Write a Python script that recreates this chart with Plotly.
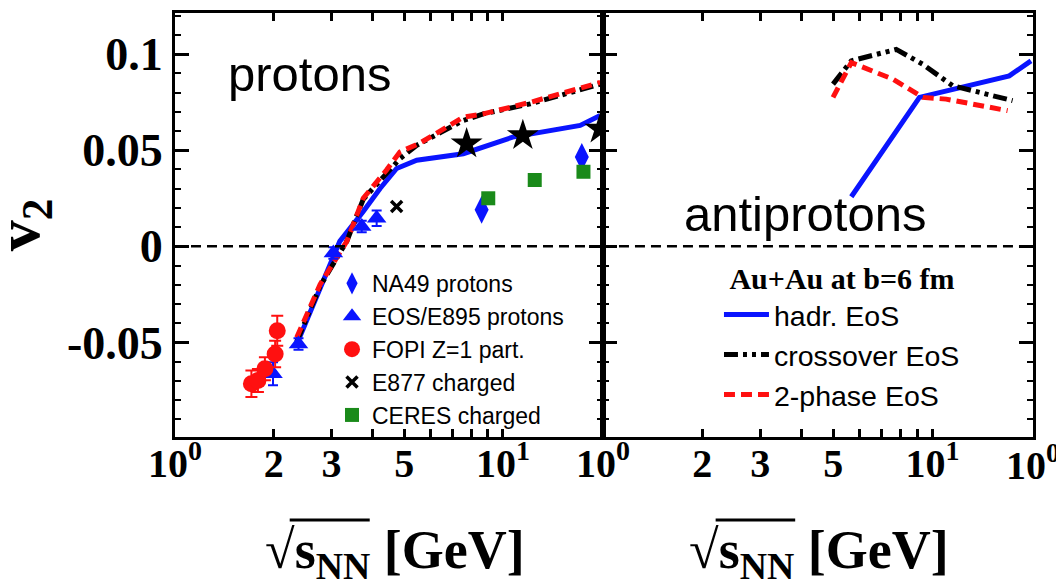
import plotly.graph_objects as go

# ---- model curves: v2 vs sqrt(s_NN) ----
# protons
hadr_p_x = [2.35, 2.70, 3.18, 3.75, 4.22, 4.74, 5.46, 7.57, 10.7, 17.2, 19.8]
hadr_p_y = [-0.051, -0.027, 0.0026, 0.0181, 0.0301, 0.0405, 0.0448, 0.0482, 0.0568, 0.0629, 0.0681]
cross_p_x = [2.35, 2.77, 3.34, 3.75, 4.42, 4.85, 5.46, 7.57, 8.71, 12.1, 19.8]
cross_p_y = [-0.0496, -0.0207, 0.0026, 0.0245, 0.0380, 0.0456, 0.0526, 0.0655, 0.0689, 0.0741, 0.0844]
twoph_p_x = [2.35, 2.52, 2.77, 3.34, 3.75, 4.42, 4.85, 5.58, 7.57, 8.71, 12.1, 19.8]
twoph_p_y = [-0.0475, -0.0353, -0.0198, 0.0026, 0.0250, 0.0398, 0.0491, 0.0537, 0.0672, 0.0689, 0.0749, 0.0853]

# antiprotons
hadr_a_x = [5.67, 9.13, 17.1, 19.9]
hadr_a_y = [0.0258, 0.0775, 0.0887, 0.0965]
cross_a_x = [4.99, 5.67, 7.76, 9.35, 11.5, 17.5]
cross_a_y = [0.0844, 0.0965, 0.1025, 0.0947, 0.0836, 0.0758]
twoph_a_x = [4.99, 5.67, 7.58, 9.35, 11.0, 16.9]
twoph_a_y = [0.0775, 0.0956, 0.087, 0.0775, 0.0766, 0.0706]

# ---- measurements ----
na49_x = [8.61, 17.4]
na49_y = [0.019, 0.0465]
e895_x = [1.99, 2.38, 3.04, 3.71, 4.12]
e895_y = [-0.0663, -0.0508, -0.0035, 0.0103, 0.0146]
e895_err = [0.006, 0.003, 0.003, 0.003, 0.004]
fopi_x = [1.71, 1.79, 1.88, 2.02, 2.05]
fopi_y = [-0.0715, -0.0698, -0.0637, -0.056, -0.0439]
fopi_err = [0.0069, 0.006, 0.006, 0.0069, 0.0078]
e877_x = [4.74]
e877_y = [0.0207]
ceres_x = [9.02, 12.5, 17.6]
ceres_y = [0.025, 0.0345, 0.0388]
star_x = [7.75, 11.5, 19.8]
star_y = [0.0534, 0.0577, 0.0611]

x_tickvals = [1, 2, 3, 4, 5, 6, 7, 8, 9, 10]
x_ticktext = ["10<sup>0</sup>", "2", "3", "", "5", "", "", "", "", "10<sup>1</sup>"]
y_tickvals = [-0.05, 0, 0.05, 0.1]
y_ticktext = ["-0.05", "0", "0.05", "0.1"]

BLUE = "#0a14ff"
RED = "#ff1010"
GREEN = "#1a8a1a"
SERIF = "Liberation Serif"
SANS = "Liberation Sans"

CROSS_DASH = "14px,5px,4px,5px,4px,5px"
TWOPH_DASH = "11px,6px"

fig = go.Figure()

# model curves, left panel
fig.add_trace(go.Scatter(x=hadr_p_x, y=hadr_p_y, mode="lines", xaxis="x", yaxis="y",
                         line=dict(color=BLUE, width=5), showlegend=False))
fig.add_trace(go.Scatter(x=cross_p_x, y=cross_p_y, mode="lines", xaxis="x", yaxis="y",
                         line=dict(color="black", width=5, dash=CROSS_DASH), showlegend=False))
fig.add_trace(go.Scatter(x=twoph_p_x, y=twoph_p_y, mode="lines", xaxis="x", yaxis="y",
                         line=dict(color=RED, width=5, dash=TWOPH_DASH), showlegend=False))

# data points, left panel
fig.add_trace(go.Scatter(x=na49_x, y=na49_y, mode="markers", name="NA49 protons",
                         xaxis="x", yaxis="y", legend="legend",
                         marker=dict(symbol="diamond-tall", size=20, color=BLUE)))
fig.add_trace(go.Scatter(x=e895_x, y=e895_y, mode="markers", name="EOS/E895 protons",
                         xaxis="x", yaxis="y", legend="legend",
                         error_y=dict(type="data", array=e895_err, color=BLUE, thickness=2, width=5),
                         marker=dict(symbol="triangle-up", size=17, color=BLUE)))
fig.add_trace(go.Scatter(x=fopi_x, y=fopi_y, mode="markers", name="FOPI Z=1 part.",
                         xaxis="x", yaxis="y", legend="legend",
                         error_y=dict(type="data", array=fopi_err, color=RED, thickness=2, width=6),
                         marker=dict(symbol="circle", size=17, color=RED)))
fig.add_trace(go.Scatter(x=e877_x, y=e877_y, mode="markers", name="E877 charged",
                         xaxis="x", yaxis="y", legend="legend",
                         marker=dict(symbol="x-thin", size=11, color="black",
                                     line=dict(color="black", width=3.5))))
fig.add_trace(go.Scatter(x=ceres_x, y=ceres_y, mode="markers", name="CERES charged",
                         xaxis="x", yaxis="y", legend="legend",
                         marker=dict(symbol="square", size=14, color=GREEN)))
fig.add_trace(go.Scatter(x=star_x, y=star_y, mode="markers", xaxis="x", yaxis="y",
                         showlegend=False,
                         marker=dict(symbol="star", size=24, color="black")))

# model curves, right panel (carry the model legend)
fig.add_trace(go.Scatter(x=hadr_a_x, y=hadr_a_y, mode="lines", name="hadr. EoS",
                         xaxis="x2", yaxis="y2", legend="legend2",
                         line=dict(color=BLUE, width=5)))
fig.add_trace(go.Scatter(x=cross_a_x, y=cross_a_y, mode="lines", name="crossover EoS",
                         xaxis="x2", yaxis="y2", legend="legend2",
                         line=dict(color="black", width=5, dash=CROSS_DASH)))
fig.add_trace(go.Scatter(x=twoph_a_x, y=twoph_a_y, mode="lines", name="2-phase EoS",
                         xaxis="x2", yaxis="y2", legend="legend2",
                         line=dict(color=RED, width=5, dash=TWOPH_DASH)))

SPLIT = 0.4988
x_common = dict(type="log", range=[0, 1.305], tickmode="array",
                tickvals=x_tickvals, ticktext=x_ticktext,
                ticks="inside", ticklen=8, tickwidth=2.5, tickcolor="black",
                showline=True, linewidth=3, linecolor="black", mirror="allticks",
                showgrid=False, zeroline=False, ticklabelstandoff=-11,
                tickfont=dict(family=SERIF, size=40, color="black", weight="bold"))
y_common = dict(range=[-0.0992, 0.1214], tickmode="array",
                tickvals=y_tickvals, ticktext=y_ticktext,
                ticks="inside", ticklen=14, tickwidth=2.5, tickcolor="black",
                minor=dict(dtick=0.01, tick0=0, ticks="inside", ticklen=6,
                           tickwidth=2, tickcolor="black"),
                showline=True, linewidth=3, linecolor="black", mirror="allticks",
                showgrid=False, zeroline=False,
                tickfont=dict(family=SERIF, size=46, color="black", weight="bold"))

fig.update_layout(
    width=1056, height=585,
    margin=dict(l=175, r=23, t=10, b=148),
    plot_bgcolor="white", paper_bgcolor="white",
    xaxis=dict(domain=[0, SPLIT], anchor="y", **x_common),
    xaxis2=dict(domain=[SPLIT, 1], anchor="y2", **x_common),
    yaxis=dict(domain=[0, 1], anchor="x", **y_common),
    yaxis2=dict(domain=[0, 1], anchor="x2", showticklabels=False, **y_common),
    legend=dict(x=0.183, y=0.413, xanchor="left", yanchor="top",
                bgcolor="rgba(0,0,0,0)", borderwidth=0, itemwidth=30,
                font=dict(family=SANS, size=23, color="black"),
                tracegroupgap=0),
    legend2=dict(x=0.634, y=0.44, xanchor="left", yanchor="top",
                 bgcolor="rgba(0,0,0,0)", borderwidth=0, itemwidth=45,
                 title=dict(text="Au+Au at b=6 fm", side="top center",
                            font=dict(family=SERIF, size=30, color="black", weight="bold")),
                 font=dict(family=SANS, size=28.5, color="black")),
    showlegend=True,
)

# zero reference line in both panels
for xr, yr in (("x domain", "y"), ("x2 domain", "y2")):
    fig.add_shape(type="line", xref=xr, yref=yr, x0=0, x1=1, y0=0, y1=0,
                  line=dict(color="black", width=2.5, dash="10px,6px"))

# panel labels
fig.add_annotation(text="protons", xref="x domain", yref="y domain", x=0.315, y=0.855,
                   showarrow=False, xanchor="center", yanchor="middle",
                   font=dict(family=SANS, size=49, color="black"))
fig.add_annotation(text="antiprotons", xref="x2 domain", yref="y2 domain", x=0.47, y=0.525,
                   showarrow=False, xanchor="center", yanchor="middle",
                   font=dict(family=SANS, size=49, color="black"))

# axis titles: sqrt(s_NN) with a vinculum over the radicand
xtitle = "√s<sub>NN</sub> [GeV]"
for xr, xc in (("x domain", 0.515), ("x2 domain", 0.503)):
    fig.add_annotation(text=xtitle, xref=xr, yref="paper", x=xc, y=-0.275,
                       showarrow=False, xanchor="center", yanchor="middle",
                       font=dict(family=SERIF, size=54, color="black", weight="bold"))
for xr, x0, x1 in (("x domain", 0.268, 0.455), ("x2 domain", 0.262, 0.447)):
    fig.add_shape(type="line", xref=xr, yref="paper", x0=x0, x1=x1, y0=-0.196, y1=-0.196,
                  line=dict(color="black", width=3))
fig.add_annotation(text="v<sub>2</sub>", xref="paper", yref="paper", x=-0.178, y=0.5,
                   textangle=-90, showarrow=False, xanchor="center", yanchor="middle",
                   borderpad=0,
                   font=dict(family=SERIF, size=62, color="black", weight="bold"))

# leading label of the next panel's axis at the right edge
fig.add_annotation(text="10<sup>0</sup>", xref="x2 domain", yref="paper", x=1, y=0.004,
                   showarrow=False, xanchor="center", yanchor="top",
                   font=dict(family=SERIF, size=40, color="black", weight="bold"))

fig.write_html("out.html")
